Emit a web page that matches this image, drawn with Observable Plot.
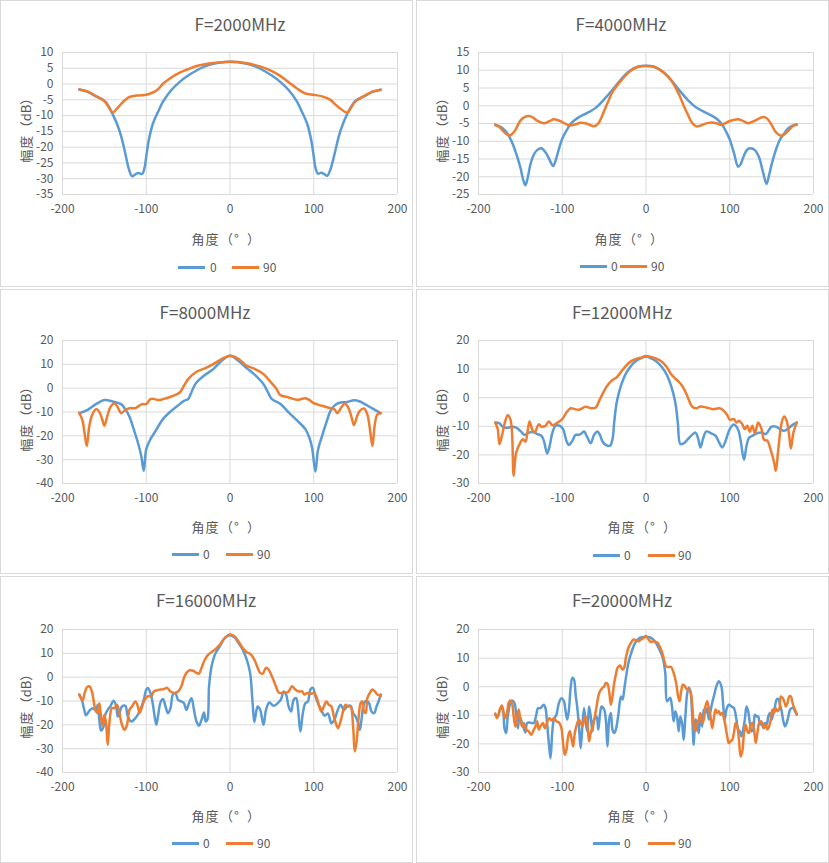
<!DOCTYPE html>
<html><head><meta charset="utf-8">
<script src="https://cdn.jsdelivr.net/npm/d3@7"></script>
<script src="https://cdn.jsdelivr.net/npm/@observablehq/plot@0.6"></script>
<style>
html,body{margin:0;padding:0;background:#fff;}
body{width:829px;height:863px;position:relative;font-family:"Noto Sans CJK SC","Noto Sans",sans-serif;color:#595959;}
.panel{position:absolute;background:#fff;box-shadow:inset 0 0 0 1px #d9d9d9;}
.panel svg{position:absolute;left:0;top:0;}
.t{position:absolute;white-space:nowrap;transform:translate(-50%,-50%);line-height:1;}
.title{font-size:17px;}
.xl,.yl{font-size:13px;display:flex;}
.yl{transform:translate(-50%,-50%) rotate(-90deg);}
.c{display:inline-block;width:14px;text-align:center;}
.c.op{text-align:right;}
.c.cl{text-align:left;}
.c.dg{text-align:left;padding-left:1px;box-sizing:border-box;}
.c.hw{width:auto;}
.lg{position:absolute;height:3px;width:27px;}
.lt{position:absolute;font-size:12px;transform:translateY(-50%);line-height:1;}
</style></head>
<body>
<script>
const xTicks = [-200, -100, 0, 100, 200];
const titles = ["F=2000MHz","F=4000MHz","F=8000MHz","F=12000MHz","F=16000MHz","F=20000MHz"];
const seriesNames = ["0","90"];
const xLabelChars = ["角","度","（","°","）"];
const yLabelChars = ["幅","度","（","dB","）"];
const yTicks2000 = [-35,-30,-25,-20,-15,-10,-5,0,5,10];
const yTicks4000 = [-25,-20,-15,-10,-5,0,5,10,15];
const yTicks8000 = [-40,-30,-20,-10,0,10,20];
const yTicks12000 = [-30,-20,-10,0,10,20];
const yTicks16000 = [-40,-30,-20,-10,0,10,20];
const yTicks20000 = [-30,-20,-10,0,10,20];

const f2000_0 = [[-180,-1.7],[-170,-2.5],[-160,-3.9],[-150,-5.3],[-145,-7],[-140,-9.6],[-135,-12.6],[-130,-16.5],[-125,-22],[-121,-26.7],[-117,-29.2],[-113,-28.6],[-109,-28.2],[-105,-28.5],[-102,-26.5],[-100,-23],[-97,-17.8],[-92,-12.5],[-85,-8.3],[-80,-5.6],[-70,-1.9],[-60,0.7],[-50,2.7],[-40,4.3],[-30,5.6],[-20,6.4],[-10,6.9],[0,7.1],[10,6.9],[20,6.4],[30,5.6],[40,4.3],[50,2.7],[60,0.7],[70,-1.9],[80,-5.6],[85,-8.3],[92,-12.5],[97,-17.8],[100,-23],[102,-26.5],[105,-28.4],[109,-28.1],[113,-28.6],[116,-29.1],[120,-27],[125,-22],[130,-16.5],[135,-12.5],[140,-9.5],[145,-7],[150,-5.3],[160,-3.9],[170,-2.5],[180,-1.8]];
const f2000_90 = [[-180,-1.7],[-170,-2.3],[-160,-3.8],[-150,-5.4],[-145,-7.3],[-140,-9],[-135,-7.8],[-130,-6.3],[-125,-5],[-120,-4.1],[-110,-3.6],[-100,-3.4],[-95,-3],[-90,-2.4],[-85,-1.4],[-80,0.1],[-70,2.1],[-60,3.6],[-50,4.7],[-40,5.7],[-30,6.3],[-20,6.7],[-10,6.9],[0,7.1],[10,7],[20,6.6],[30,6],[40,5.2],[50,4.1],[60,2.6],[70,0.6],[80,-1.4],[90,-3],[100,-3.4],[110,-3.9],[120,-5],[125,-6.3],[130,-7.4],[140,-9],[145,-7.3],[150,-5.4],[160,-3.8],[170,-2.4],[180,-1.8]];

const f4000_0 = [[-180,-5.4],[-175,-5.8],[-170,-6.6],[-165,-8],[-160,-10.3],[-155,-13.5],[-150,-17.4],[-147,-20.5],[-144,-22.4],[-141,-20],[-138,-16.5],[-134,-13.8],[-130,-12.5],[-125,-12],[-120,-13.1],[-115,-15.3],[-111,-17],[-108,-15.5],[-105,-13],[-100,-9.3],[-95,-7],[-90,-5.1],[-85,-4],[-80,-3.2],[-70,-2],[-60,-0.6],[-50,1.8],[-40,4.5],[-30,7.4],[-20,9.7],[-10,11],[0,11.3],[10,11],[20,9.6],[30,7.2],[40,4.3],[50,1.6],[60,-0.5],[70,-1.8],[80,-3],[85,-3.8],[90,-5],[95,-7],[100,-9.5],[105,-13.3],[110,-17.2],[113,-16.5],[117,-14],[121,-12.3],[125,-12],[130,-12.5],[135,-14.5],[140,-19],[144,-22],[147,-19.5],[150,-16.5],[155,-12.5],[160,-9.5],[165,-7.8],[170,-6.3],[175,-5.6],[180,-5.3]];
const f4000_90 = [[-180,-5.3],[-175,-6],[-170,-7.3],[-163,-8.4],[-157,-7.2],[-150,-4.2],[-145,-3.2],[-140,-2.9],[-135,-3.3],[-130,-4.2],[-122,-4.9],[-115,-4.3],[-110,-3.8],[-105,-4.1],[-100,-4.6],[-92,-5.5],[-85,-5.3],[-78,-4.8],[-70,-5.1],[-62,-5.8],[-57,-5],[-50,-1.5],[-45,1.3],[-40,3.9],[-30,7],[-20,9.6],[-10,10.9],[0,11.2],[10,10.9],[20,9.6],[30,7.2],[40,2.9],[45,0],[50,-2.5],[55,-4.8],[60,-5.8],[65,-5.6],[70,-5.1],[78,-4.7],[85,-5],[90,-5.4],[100,-4.3],[110,-3.8],[115,-4.2],[122,-4.9],[130,-4.2],[140,-3.2],[145,-3.7],[150,-5.4],[155,-7.4],[162,-8.4],[170,-7],[175,-5.8],[180,-5.3]];

const f8000_0 = [[-180,-10.5],[-170,-9.1],[-160,-6.7],[-150,-5],[-140,-5.6],[-130,-6.7],[-125,-8.8],[-120,-12],[-115,-17.2],[-110,-22.8],[-106,-28.4],[-103,-34.7],[-100,-25.6],[-95,-21.4],[-90,-18.6],[-80,-13],[-70,-9.5],[-60,-6.7],[-55,-5.3],[-50,-4.6],[-47,-2.5],[-43,0.7],[-40,2.4],[-30,5.5],[-20,8],[-10,11.5],[0,13.6],[10,11.5],[20,8.4],[30,5.5],[40,1.7],[45,-1.5],[50,-4.6],[60,-6.5],[70,-10.2],[80,-13.5],[90,-17.2],[95,-21],[98,-25],[102,-35],[105,-26],[110,-20],[115,-14.5],[120,-9.5],[125,-7.2],[130,-6.2],[140,-5.8],[148,-5.1],[155,-5.6],[160,-6.5],[170,-8.5],[180,-10.5]];
const f8000_90 = [[-180,-10.3],[-176,-13.7],[-174,-18],[-171,-24.2],[-168,-16],[-165,-11.6],[-160,-8.8],[-157,-9.5],[-153,-12.5],[-150,-15.8],[-146,-11],[-142,-7.5],[-138,-6.4],[-134,-8],[-130,-10.5],[-125,-9.1],[-120,-8.4],[-113,-8.4],[-105,-6.7],[-100,-6.7],[-95,-4.6],[-90,-4.6],[-85,-5],[-80,-4.6],[-70,-3.5],[-60,-1.8],[-55,1],[-50,3.8],[-40,6.9],[-30,8.3],[-20,10.1],[-10,12.2],[0,13.6],[10,12.3],[20,9.4],[30,8],[40,5.9],[50,2],[55,0],[60,-2.9],[70,-3.9],[80,-4.9],[90,-4.2],[95,-5],[100,-6.3],[110,-7.4],[120,-8.4],[125,-9],[128,-10.5],[133,-8],[137,-6.4],[141,-8],[145,-12],[148,-15.5],[152,-11.5],[155,-9.5],[160,-8.5],[164,-11],[167,-17],[170,-24.2],[173,-15],[176,-11],[180,-10.5]];

const f12000_0 = [[-180,-8.7],[-175,-9],[-170,-10.4],[-165,-10.5],[-160,-10.2],[-155,-10.5],[-150,-11.6],[-145,-13],[-140,-12.2],[-135,-12],[-130,-12.7],[-125,-13.3],[-122,-15],[-118,-19.5],[-115,-16.8],[-112,-12.5],[-108,-9.8],[-103,-9.8],[-99,-11],[-95,-15.1],[-92,-16.5],[-88,-15.1],[-84,-13],[-80,-13],[-77,-12.5],[-74,-11.8],[-70,-13.9],[-66,-15.9],[-62,-13],[-58,-11.8],[-55,-13],[-52,-15.3],[-48,-16.5],[-43,-16.8],[-40,-14.5],[-38,-8.7],[-35,-1.7],[-30,4.1],[-25,7.9],[-20,10.3],[-15,12.1],[-10,13.2],[-5,13.9],[0,14.4],[5,13.9],[10,13.2],[15,12],[20,10.3],[25,7.9],[30,4.1],[35,-1.7],[38,-8.7],[41,-16.2],[45,-16],[50,-14.5],[55,-13],[59,-12.2],[62,-14],[65,-17.4],[68,-14.5],[72,-11.8],[78,-12.5],[83,-13.3],[87,-15.5],[91,-17.4],[95,-15.1],[100,-11],[105,-9.4],[110,-11.2],[113,-15],[117,-21.7],[120,-16.8],[123,-14],[127,-13.3],[133,-12.4],[138,-12.2],[143,-12.7],[147,-11.2],[150,-10.1],[155,-10.1],[160,-11],[165,-11.6],[170,-10.8],[175,-9.5],[180,-8.7]];
const f12000_90 = [[-180,-8.7],[-177,-11],[-175,-16.2],[-172,-13.3],[-168,-8.1],[-165,-6.1],[-162,-7.5],[-160,-12],[-158,-27.3],[-155,-19.2],[-150,-15.7],[-147,-14.5],[-144,-15.4],[-141,-11],[-139,-8.3],[-136,-11],[-133,-12.2],[-128,-9.3],[-125,-10.1],[-120,-9.8],[-116,-8.3],[-112,-9.6],[-107,-9],[-100,-7.5],[-95,-5.2],[-90,-3.7],[-85,-4],[-80,-4.2],[-72,-3.2],[-65,-3.7],[-60,-3.4],[-55,-0.5],[-50,2.4],[-45,4.7],[-40,6.2],[-35,7.1],[-30,9],[-25,10.8],[-20,12.3],[-15,13.2],[-10,13.7],[-5,14.1],[0,14.6],[5,14.3],[10,13.9],[15,13.3],[20,12.3],[25,10.6],[30,8.2],[35,6.7],[40,5.3],[45,3.3],[50,0.1],[55,-3.1],[60,-3.7],[65,-3.1],[72,-3.4],[80,-4],[88,-3.7],[93,-4.6],[97,-6.1],[100,-7.7],[105,-7.5],[108,-8.7],[111,-8.1],[115,-9.3],[118,-11],[121,-9.8],[124,-11.9],[127,-9.8],[130,-12.4],[134,-8.7],[138,-11],[141,-14.7],[145,-15.1],[148,-17.4],[153,-22.7],[155,-25.6],[158,-18],[162,-8.7],[165,-6.6],[168,-8.1],[171,-13.3],[173,-17.8],[176,-12.2],[180,-8.7]];

const f16000_0 = [[-180,-7.3],[-177,-9.5],[-174,-13.7],[-172,-16],[-168,-14.1],[-164,-13],[-160,-13.9],[-158,-11.6],[-156,-17.9],[-154,-22.4],[-151,-20.7],[-149,-15.8],[-146,-13.7],[-143,-12.3],[-139,-9.9],[-136,-12],[-134,-16.5],[-132,-15.1],[-129,-12.3],[-125,-12],[-122,-16.5],[-118,-18.6],[-113,-17.2],[-108,-14.4],[-103,-9.5],[-100,-5.2],[-98,-4.5],[-95,-6.6],[-92,-11.6],[-90,-16.5],[-88,-20],[-86,-16.5],[-83,-10.6],[-80,-9.2],[-77,-12.3],[-74,-15.1],[-71,-13],[-68,-7.1],[-65,-6.9],[-62,-9.5],[-58,-10.2],[-55,-10.9],[-52,-13.7],[-49,-10.9],[-46,-8.8],[-43,-13.7],[-40,-18.6],[-37,-20.4],[-34,-17.9],[-31,-14.8],[-29,-18.6],[-27,-17.9],[-25,-3.8],[-22,4.6],[-18,9.5],[-12,13],[-6,16.5],[0,17.6],[5,16.8],[10,14.4],[15,11.6],[20,7.4],[24,1.8],[27,-10.9],[29,-18.8],[31,-15.1],[33,-12.3],[36,-13.7],[40,-20],[43,-13.7],[47,-10.6],[52,-12],[57,-10.9],[61,-9.2],[64,-6],[67,-7.3],[70,-12.3],[73,-14.4],[76,-9.5],[79,-8.8],[81,-12.3],[84,-22.8],[87,-15.1],[90,-10.9],[93,-10.2],[96,-5.2],[99,-4.5],[102,-8],[105,-10.9],[109,-13.7],[113,-16.2],[117,-15.3],[121,-19.3],[125,-17.6],[128,-14.4],[132,-11.6],[136,-13.7],[140,-12.3],[144,-12],[147,-15.1],[150,-16.5],[153,-19.3],[155,-22.1],[157,-17.9],[160,-10.9],[163,-9.9],[166,-10.9],[169,-14.4],[172,-15.1],[175,-12.3],[178,-9.5],[180,-7.3]];
const f16000_90 = [[-180,-7.3],[-178,-8.8],[-176,-9.7],[-174,-7.3],[-171,-4.3],[-168,-3.8],[-165,-5.9],[-162,-11.6],[-160,-14.4],[-158,-15.1],[-156,-10.9],[-154,-16.5],[-152,-20.7],[-150,-15.8],[-148,-19.3],[-146,-28.4],[-144,-19.3],[-141,-13],[-138,-13],[-135,-11.6],[-132,-15.1],[-129,-20],[-126,-22.1],[-123,-20],[-120,-13.7],[-117,-12.3],[-113,-10.2],[-110,-12.3],[-108,-15.1],[-105,-12.3],[-102,-9.5],[-98,-8],[-94,-8],[-91,-6],[-87,-5.5],[-83,-5.2],[-79,-5],[-75,-4.5],[-71,-6],[-66,-6.6],[-62,-6],[-58,-3.8],[-55,-0.3],[-52,1.8],[-48,2.9],[-44,2.7],[-40,1.8],[-37,1.5],[-34,3.9],[-30,7.4],[-26,9.5],[-22,10.5],[-17,11.9],[-12,13.7],[-6,16.5],[0,17.9],[5,17.3],[10,15.1],[15,12.3],[20,10.5],[25,9.5],[30,6.7],[33,3.9],[36,1.8],[39,1.5],[43,3.9],[46,3.2],[50,0.4],[54,-3.1],[58,-6.4],[62,-6.6],[66,-6.6],[70,-6],[74,-3.8],[78,-5.2],[82,-6],[86,-6],[89,-7.3],[92,-6.6],[96,-7.1],[100,-6.6],[103,-8],[106,-11.6],[109,-14.4],[112,-12.3],[115,-10.2],[118,-11.6],[121,-12.3],[124,-16.5],[127,-20],[129,-21.4],[132,-18.6],[135,-14.4],[138,-11.6],[141,-12.3],[144,-12.3],[147,-20.7],[149,-31.2],[151,-27.7],[153,-19.3],[156,-10.9],[158,-10.2],[160,-14.4],[162,-15.1],[164,-8.8],[167,-6.6],[170,-5.2],[173,-6],[176,-7.3],[180,-7.8]];

const f20000_0 = [[-180,-9.8],[-177,-10.4],[-175,-8.6],[-173,-7.5],[-171,-8],[-169,-14.5],[-167,-16.2],[-165,-10.4],[-162,-5.7],[-160,-4.8],[-157,-5.7],[-155,-9.8],[-153,-14.5],[-151,-10.4],[-148,-12.7],[-146,-14.5],[-144,-16],[-142,-12.7],[-139,-12.5],[-134,-12.7],[-131,-9.8],[-129,-7.5],[-126,-7.5],[-122,-6.3],[-120,-7.5],[-118,-13.3],[-116,-19.7],[-114,-25],[-112,-16.2],[-110,-11.5],[-107,-9.8],[-104,-5.7],[-101,-4],[-98,-5.1],[-96,-8.6],[-94,-11.5],[-92,-8],[-90,-0.4],[-88,3.1],[-86,2.5],[-84,-2.8],[-82,-7.5],[-80,-13.9],[-78,-21.5],[-76,-13.9],[-74,-7.5],[-72,-12.7],[-70,-15.6],[-68,-6.9],[-66,-10.4],[-64,-15.6],[-62,-11.5],[-59,-10.4],[-57,-15],[-55,-9.8],[-53,-6.9],[-50,-8],[-48,-11.5],[-46,-20.9],[-44,-11.5],[-42,-9.2],[-40,-15],[-38,-16.2],[-36,-15],[-33,-9.8],[-30,-3.4],[-28,-4.5],[-26,-1],[-24,3.1],[-21,8.3],[-17,12.4],[-13,15.3],[-8,17],[-3,17.4],[3,17.4],[8,16.7],[12,15.3],[16,13],[20,10.1],[23,4.8],[25,-5.1],[27,-4.5],[29,-3.9],[31,-6.9],[33,-12.1],[35,-8.6],[37,-10.4],[39,-15.6],[41,-10.4],[43,-12.7],[45,-18.6],[47,-10.4],[49,-2.8],[51,-0.4],[53,-1.6],[55,-9.2],[57,-20.3],[59,-11.5],[61,-12.7],[63,-16.2],[65,-9.8],[67,-13.9],[69,-8],[71,-9.2],[73,-7.5],[75,-11.5],[77,-8.6],[79,-5.7],[81,-3.4],[84,0.1],[87,1.9],[90,0.1],[92,-5.7],[94,-11.5],[96,-8],[99,-6.3],[102,-6.9],[105,-7.5],[108,-11.5],[110,-15],[112,-15.6],[114,-17.4],[116,-15],[118,-11.5],[120,-6.9],[122,-8.6],[124,-12.7],[126,-15.6],[128,-15],[130,-9.8],[132,-10.4],[134,-10.4],[136,-13.3],[138,-12.7],[140,-14.5],[142,-12.7],[144,-13.3],[146,-10.4],[148,-9.2],[150,-11.5],[152,-9.2],[154,-6.9],[156,-4.5],[158,-4.3],[160,-6.3],[162,-8.6],[164,-12.1],[166,-13.9],[168,-12.7],[170,-10.4],[172,-8],[174,-7.5],[176,-7.5],[178,-8.6],[180,-9.8]];
const f20000_90 = [[-180,-9.4],[-178,-11],[-176,-9.8],[-174,-7.5],[-172,-6.6],[-170,-9.2],[-168,-11],[-166,-9.2],[-164,-5.7],[-162,-4.8],[-160,-5.7],[-158,-10.4],[-156,-13.9],[-154,-11],[-152,-8],[-150,-11.5],[-148,-13.9],[-146,-12.7],[-143,-15],[-140,-15.6],[-137,-16.8],[-134,-15],[-132,-13.9],[-130,-12.1],[-128,-15],[-126,-13.9],[-123,-12.7],[-121,-14.5],[-119,-13.3],[-117,-11.5],[-115,-11],[-113,-11.8],[-110,-11],[-107,-12.1],[-104,-12.5],[-101,-14.5],[-99,-19.7],[-97,-23.8],[-95,-22.1],[-93,-17.4],[-91,-15.6],[-89,-18],[-87,-20.9],[-85,-16.2],[-82,-12.7],[-80,-11.5],[-78,-12.7],[-76,-13.9],[-74,-11.5],[-72,-10.4],[-70,-12.7],[-68,-19.1],[-66,-16.2],[-63,-13.3],[-61,-10.4],[-59,-6.9],[-57,-3.4],[-55,-1.6],[-52,-0.4],[-50,0.1],[-48,1.3],[-46,1],[-44,-1.6],[-42,-6.3],[-40,-3.4],[-38,1.3],[-36,4.2],[-34,6.6],[-31,7.4],[-28,6],[-26,6.6],[-24,10.1],[-21,13.6],[-18,15.3],[-15,16.5],[-12,16.3],[-9,15.9],[-6,16.5],[-3,17],[0,17.7],[3,16.5],[6,15.6],[9,15.9],[12,15.6],[14,15.3],[16,14.2],[18,13],[20,11.2],[22,8.9],[24,7.1],[27,6.9],[30,6.9],[33,4.8],[36,1.3],[38,-2.8],[40,-5.1],[42,-1.6],[44,0.7],[46,0.4],[48,-0.7],[51,-1],[53,-1.6],[55,-5.7],[57,-13.3],[59,-15.6],[61,-12.7],[63,-11.5],[65,-9.2],[67,-12.7],[69,-11.5],[71,-6.9],[73,-5.1],[75,-7.5],[77,-10.4],[79,-14.5],[81,-11],[83,-8],[85,-9.2],[87,-8.6],[89,-9.8],[91,-9.2],[93,-11],[95,-13.9],[97,-17.4],[99,-19.7],[101,-19.1],[103,-18.6],[105,-16.2],[107,-12.7],[109,-13.9],[111,-18.6],[113,-24.4],[115,-22.6],[117,-16.2],[119,-13.3],[121,-15.6],[123,-16.2],[125,-13.3],[127,-12.7],[129,-15],[131,-19.7],[133,-16.2],[135,-12.7],[137,-12.1],[139,-12.7],[141,-14.5],[143,-13.3],[145,-15],[147,-13.9],[149,-11.5],[151,-8],[153,-9.2],[155,-7.5],[157,-8.6],[159,-8],[161,-3.4],[163,-3.9],[165,-5.1],[167,-6.9],[169,-5.7],[171,-3.4],[173,-3.4],[175,-5.7],[177,-7.5],[180,-9.4]];

const blue = "#5B9BD5", orange = "#ED7D31";
const fontStack = '"Noto Sans CJK SC","Noto Sans",sans-serif';

// layout (positions only)
const panels = [
  {left:0,   top:0,   w:413, h:287, pt:52, pb:194, tx:240, ty:23, xx:226, xy:238, ly:267, lg:[178,210,232,263], yt:yTicks2000, s0:f2000_0, s90:f2000_90},
  {left:416, top:0,   w:413, h:287, pt:52, pb:194, tx:205, ty:23, xx:213, xy:238, ly:266, lg:[164,195,204,235], yt:yTicks4000, s0:f4000_0, s90:f4000_90},
  {left:0,   top:289, w:413, h:285, pt:51, pb:194, tx:205, ty:22, xx:226, xy:237, ly:265, lg:[172,203,226,257], yt:yTicks8000, s0:f8000_0, s90:f8000_90},
  {left:416, top:289, w:413, h:285, pt:51, pb:194, tx:206, ty:22, xx:226, xy:237, ly:266, lg:[177,208,232,262], yt:yTicks12000, s0:f12000_0, s90:f12000_90},
  {left:0,   top:576, w:413, h:287, pt:53, pb:196, tx:206, ty:23, xx:226, xy:239, ly:267, lg:[172,203,226,257], yt:yTicks16000, s0:f16000_0, s90:f16000_90},
  {left:416, top:576, w:413, h:287, pt:53, pb:196, tx:206, ty:23, xx:226, xy:239, ly:267, lg:[177,208,232,262], yt:yTicks20000, s0:f20000_0, s90:f20000_90}
];

const cellClass = ch => ch === "（" ? "c op" : ch === "）" ? "c cl" : ch === "°" ? "c dg" : (/^[A-Za-z]+$/.test(ch) ? "c hw" : "c");

panels.forEach((p, i) => {
  const div = document.createElement("div");
  div.className = "panel";
  Object.assign(div.style, {left: p.left+"px", top: p.top+"px", width: p.w+"px", height: p.h+"px"});
  document.body.appendChild(div);

  const yt = p.yt;
  const chart = Plot.plot({
    width: 413, height: p.pb + 30,
    marginLeft: 62, marginRight: 16, marginTop: p.pt, marginBottom: 30,
    style: {fontFamily: fontStack, fontSize: "12px", color: "#595959", background: "transparent", overflow: "visible"},
    x: {domain: [-200, 200]},
    y: {domain: [yt[0], yt[yt.length - 1]]},
    marks: [
      Plot.gridX(xTicks, {stroke: "#d9d9d9", strokeOpacity: 1}),
      Plot.gridY(yt, {stroke: "#d9d9d9", strokeOpacity: 1}),
      Plot.axisX(xTicks, {tickSize: 0, tickPadding: 10, label: null, tickFormat: d => String(d), fill: "#595959"}),
      Plot.axisY(yt, {tickSize: 0, tickPadding: 9, label: null, tickFormat: d => String(d), fill: "#595959"}),
      Plot.line(p.s0, {x: d => d[0], y: d => d[1], stroke: blue, strokeWidth: 2.5, curve: "catmull-rom"}),
      Plot.line(p.s90, {x: d => d[0], y: d => d[1], stroke: orange, strokeWidth: 2.5, curve: "catmull-rom"})
    ]
  });
  div.appendChild(chart);

  const add = (cls, text, x, y) => {
    const e = document.createElement("div");
    e.className = cls; e.textContent = text;
    e.style.left = x + "px"; e.style.top = y + "px";
    div.appendChild(e);
    return e;
  };
  const addLabel = (cls, chars, x, y) => {
    const e = add(cls, "", x, y);
    chars.forEach(ch => {
      const s = document.createElement("span");
      s.className = cellClass(ch);
      s.textContent = ch;
      e.appendChild(s);
    });
  };
  add("t title", titles[i], p.tx, p.ty);
  addLabel("t xl", xLabelChars, p.xx, p.xy);
  addLabel("t yl", yLabelChars, 25, 127);
  const [l1, t1, l2, t2] = p.lg;
  const line1 = add("lg", "", l1, p.ly - 1.5); line1.style.background = blue;
  add("lt", seriesNames[0], t1, p.ly);
  const line2 = add("lg", "", l2, p.ly - 1.5); line2.style.background = orange;
  add("lt", seriesNames[1], t2, p.ly);
});
</script>
</body></html>
